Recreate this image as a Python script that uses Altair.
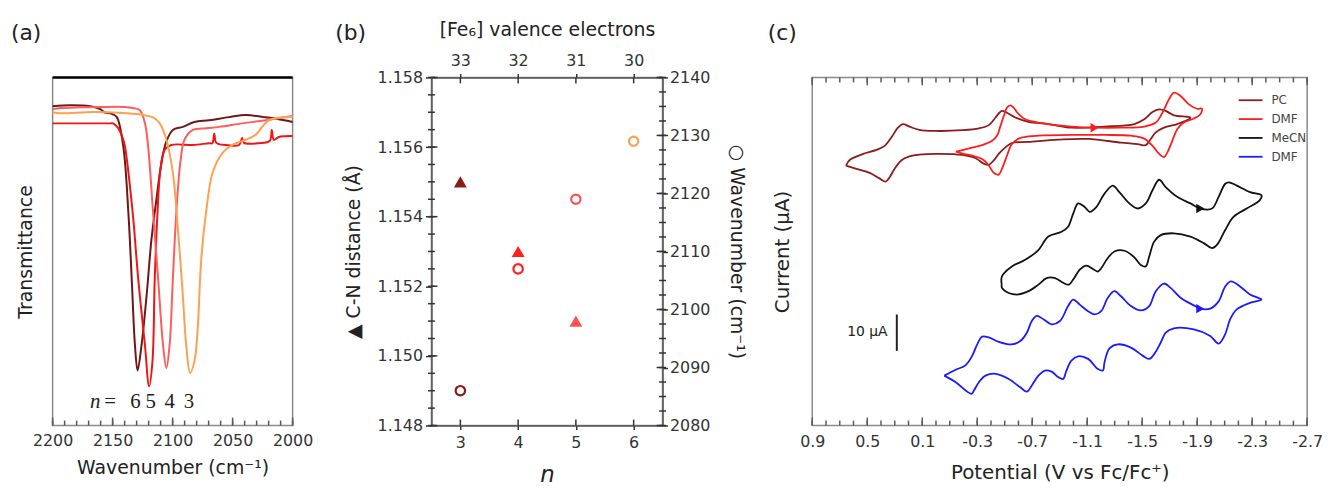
import altair as alt
import pandas as pd

FONT = "DejaVu Sans"
SERIF = "Liberation Serif"
TXT = "#333333"
TTL = "#222222"
FRAME = "#8a8a8a"
TICK = "#5a5a5a"
H = 351

# ---------------- (a) IR spectra ----------------
A_ORDER = ["6", "5", "4", "3"]
A_COLORS = ["#6f1616", "#ee1515", "#ff5c5c", "#ffa050"]

A6_WN = [2200.0, 2185.1, 2168.6, 2160.3, 2157.0, 2150.4, 2146.5, 2141.1, 2136.9, 2134.1, 2131.4, 2129.2, 2125.9,
         2121.7, 2117.6, 2113.5, 2109.3, 2105.2, 2099.8, 2091.5, 2081.8, 2069.4, 2052.9, 2038.8, 2024.0, 2011.6, 2000.0]
A6_T = [91.7, 92.0, 91.7, 90.9, 90.0, 89.5, 88.6, 80.1, 61.3, 42.2, 23.1, 15.8, 23.1,
        37.3, 53.6, 65.0, 75.5, 81.6, 84.9, 85.8, 87.2, 87.7, 88.6, 89.2, 88.6, 88.0, 87.2]

A5_WN = [2200.0, 2176.9, 2152.1, 2149.6, 2145.5, 2141.5, 2139.7, 2133.3, 2128.7, 2123.1, 2119.6, 2116.8, 2114.9,
         2112.6, 2110.2, 2106.6, 2101.1, 2083.2, 2069.4, 2066.9, 2065.3, 2063.6, 2055.6, 2044.6, 2042.1, 2040.5,
         2028.1, 2019.0, 2017.4, 2015.7, 2011.6, 2000.0]
A5_T = [86.8, 86.8, 86.8, 86.8, 85.5, 82.5, 80.1, 61.2, 42.2, 23.2, 11.3, 18.4, 42.2,
        61.2, 73.5, 79.2, 80.6, 80.6, 81.1, 81.1, 83.8, 81.2, 80.6, 80.6, 82.6, 81.2,
        81.1, 81.8, 84.9, 82.1, 82.9, 83.2]

A4_WN = [2200.0, 2193.4, 2176.9, 2160.3, 2139.7, 2133.1, 2127.3, 2123.1, 2120.4, 2116.3, 2112.1, 2108.0, 2105.2,
         2102.5, 2099.8, 2096.9, 2093.6, 2090.1, 2083.2, 2072.1, 2061.2, 2042.1, 2022.6, 2000.0]
A4_T = [90.9, 91.2, 91.4, 91.5, 91.5, 91.2, 90.6, 86.9, 80.1, 61.3, 42.2, 23.2, 16.5,
        23.2, 42.2, 61.3, 75.5, 82.1, 84.9, 85.4, 85.8, 86.8, 87.7, 88.9]

A3_WN = [2200.0, 2193.4, 2165.9, 2138.3, 2124.5, 2116.3, 2110.7, 2105.2, 2099.8, 2095.6, 2091.5, 2088.7, 2085.4,
         2081.8, 2079.1, 2076.3, 2072.1, 2066.7, 2058.4, 2050.2, 2039.1, 2030.8, 2025.4, 2019.8, 2000.0]
A3_T = [90.0, 89.7, 90.1, 89.7, 89.2, 88.5, 86.8, 82.1, 72.6, 56.4, 37.4, 23.2, 15.1,
        18.5, 27.9, 47.0, 61.3, 72.6, 78.3, 80.6, 82.1, 83.5, 85.8, 87.7, 88.7]

A_PEAK_LABELS = ["6", "5", "4", "3"]
A_PEAK_WN = [2131.0, 2118.3, 2102.5, 2086.4]
A_LABEL_T = 6.6
A_N_WN = 2164.5
A_EQ_WN = 2152.0
A_MAJOR = [2200, 2150, 2100, 2050, 2000]
A_MINOR = list(range(2000, 2201, 10))

# ---------------- (b) C-N distance / wavenumber ----------------
B_TRI_N = [3, 4, 5]
B_TRI_CN = [1.1550, 1.1530, 1.1510]
B_CIR_N = [3, 4, 5, 6]
B_CIR_WN = [2086, 2107, 2119, 2129]
B_ORDER = [3, 4, 5, 6]
B_COLORS = ["#8b1a1a", "#ff1f1f", "#ff5252", "#f7a05a"]
B_X_TICKS = [3, 4, 5, 6]
B_LEFT_MAJOR = [1.148, 1.150, 1.152, 1.154, 1.156, 1.158]
B_LEFT_MINOR = [round(1.148 + 0.0005 * k, 4) for k in range(21)]
B_RIGHT_MAJOR = [2080, 2090, 2100, 2110, 2120, 2130, 2140]
B_RIGHT_MINOR = [2080 + 2.5 * k for k in range(25)]

# ---------------- (c) cyclic voltammograms ----------------
C_SERIES = ["PC", "DMF", "MeCN", "DMF "]
C_COLORS = ["#8a1c1c", "#ff1c1c", "#111111", "#1a1aff"]
C_WIDTHS = [1.8, 1.8, 2.8, 1.8]

PC_V = [0.655, 0.626, 0.530, 0.433, 0.373, 0.325, 0.277, 0.241, 0.193, 0.121, 0.000, -0.192, -0.312, -0.384,
        -0.433, -0.461, -0.480, -0.516, -0.577, -0.673, -0.817, -0.985, -1.226, -1.443, -1.515, -1.575, -1.623,
        -1.671, -1.731, -1.827, -1.851, -1.840, -1.755, -1.659, -1.599, -1.562, -1.526, -1.467, -1.346, -1.106,
        -0.889, -0.673, -0.552, -0.505, -0.456, -0.420, -0.384, -0.348, -0.288, -0.192, -0.024, 0.121, 0.193,
        0.253, 0.301, 0.337, 0.366, 0.409, 0.482, 0.578, 0.655]
PC_I = [71.4, 73.0, 74.6, 75.7, 76.8, 79.1, 81.8, 82.8, 82.1, 81.2, 80.9, 81.1, 81.6, 82.5,
        84.6, 85.9, 86.4, 85.9, 84.6, 83.4, 82.8, 81.8, 82.1, 82.8, 84.1, 86.1, 86.8,
        86.4, 85.2, 84.8, 84.6, 84.1, 82.8, 81.8, 80.5, 78.7, 77.0, 77.3, 77.7, 78.7,
        78.5, 77.9, 77.6, 76.4, 74.6, 72.8, 71.6, 71.9, 73.4, 74.3, 74.6, 74.4, 73.9,
        72.8, 70.5, 68.2, 67.0, 67.8, 69.4, 70.5, 71.4]

DMF1_V = [-0.144, -0.240, -0.336, -0.408, -0.444, -0.469, -0.493, -0.516, -0.541, -0.565, -0.601, -0.649, -0.745,
          -0.985, -1.154, -1.346, -1.515, -1.599, -1.647, -1.695, -1.731, -1.779, -1.840, -1.899, -1.935, -1.923,
          -1.876, -1.803, -1.755, -1.719, -1.683, -1.659, -1.623, -1.575, -1.515, -1.418, -1.226, -0.985, -0.745,
          -0.673, -0.601, -0.552, -0.516, -0.480, -0.456, -0.420, -0.384, -0.336, -0.264, -0.192, -0.144]
DMF1_I = [75.2, 76.1, 77.0, 78.2, 79.6, 82.3, 85.0, 87.3, 87.9, 87.3, 85.5, 84.1, 83.2,
          82.1, 81.8, 81.8, 82.1, 83.2, 85.9, 89.6, 91.4, 90.5, 88.2, 87.0, 87.0, 85.5,
          84.3, 83.2, 81.4, 78.2, 75.0, 73.7, 74.6, 76.8, 78.8, 79.6, 79.8, 79.8, 79.6,
          79.4, 78.8, 77.3, 74.1, 70.5, 68.9, 69.4, 71.4, 73.2, 74.1, 74.7, 75.2]

MECN_V = [-0.478, -0.480, -0.552, -0.649, -0.745, -0.817, -0.913, -0.961, -0.998, -1.034, -1.082, -1.118, -1.166,
          -1.226, -1.286, -1.334, -1.407, -1.467, -1.526, -1.575, -1.623, -1.671, -1.755, -1.851, -1.923, -2.008,
          -2.056, -2.104, -2.130, -2.188, -2.284, -2.368,
          -2.356, -2.260, -2.164, -2.104, -2.044, -2.008, -1.948, -1.851, -1.731, -1.635, -1.587, -1.551, -1.526,
          -1.490, -1.443, -1.371, -1.298, -1.250, -1.202, -1.178, -1.142, -1.094, -1.046, -0.998, -0.967, -0.925,
          -0.866, -0.805, -0.745, -0.673, -0.601, -0.529, -0.480, -0.478]
MECN_I = [38.7, 41.0, 43.7, 45.5, 48.2, 51.9, 53.2, 54.6, 58.2, 61.0, 60.0, 58.7, 60.0,
          63.7, 65.9, 64.1, 61.0, 59.6, 61.0, 64.6, 67.5, 65.5, 62.8, 61.0, 59.6, 59.6,
          62.8, 66.4, 66.8, 65.9, 64.1, 63.2,
          61.9, 59.6, 57.3, 53.7, 49.6, 48.7, 50.1, 51.9, 52.8, 52.3, 50.5, 46.4, 43.7,
          44.1, 46.2, 48.0, 47.8, 46.0, 43.2, 42.3, 43.0, 43.9, 42.8, 40.1, 38.7, 39.2,
          40.5, 40.5, 38.7, 36.9, 36.0, 36.4, 37.8, 38.7]

DMF2_V = [-0.060, -0.144, -0.216, -0.264, -0.300, -0.336, -0.384, -0.456, -0.552, -0.613, -0.661, -0.697, -0.733,
          -0.781, -0.841, -0.902, -0.961, -0.998, -1.046, -1.106, -1.154, -1.202, -1.250, -1.298, -1.346, -1.418,
          -1.490, -1.551, -1.599, -1.659, -1.707, -1.779, -1.876, -1.923, -1.995, -2.056, -2.104, -2.145, -2.212,
          -2.284, -2.368,
          -2.284, -2.188, -2.140, -2.104, -2.056, -1.995, -1.876, -1.731, -1.671, -1.635, -1.587, -1.551, -1.503,
          -1.418, -1.322, -1.262, -1.226, -1.214, -1.178, -1.106, -1.034, -0.985, -0.949, -0.925, -0.889, -0.841,
          -0.793, -0.745, -0.697, -0.661, -0.613, -0.529, -0.433, -0.360, -0.312, -0.276, -0.259, -0.216, -0.144,
          -0.060]
DMF2_I = [13.7, 15.3, 16.6, 19.2, 22.3, 24.4, 24.2, 23.0, 22.3, 23.2, 25.5, 28.7, 30.1,
          29.2, 27.8, 28.7, 32.8, 34.6, 33.2, 31.4, 30.5, 31.4, 35.1, 36.9, 35.5, 32.8,
          31.6, 32.8, 36.9, 39.0, 37.8, 35.1, 33.0, 32.1, 32.1, 34.1, 38.2, 39.6, 38.2,
          36.0, 34.6,
          33.7, 31.9, 29.2, 25.1, 22.5, 24.6, 26.4, 26.7, 25.5, 22.8, 19.6, 18.3, 19.2,
          21.4, 22.3, 21.2, 17.4, 15.1, 15.5, 18.3, 19.0, 17.8, 15.1, 12.8, 13.3, 14.8,
          15.1, 13.7, 11.0, 9.3, 10.5, 12.8, 14.2, 13.7, 11.9, 9.6, 8.7, 9.6, 11.9,
          13.7]

ARROW_SERIES = ["DMF", "MeCN", "DMF "]
ARROW_V = [-1.154, -1.923, -1.923]
ARROW_I = [81.8, 59.6, 32.1]

BAR_V = 0.285
BAR_I = [20.5, 30.5]
BAR_TEXT_V = 0.352
BAR_TEXT_I = 25.6

C_MAJOR = [round(0.9 - 0.4 * k, 1) for k in range(10)]
C_MINOR = [round(0.9 - 0.1 * k, 1) for k in range(37)]


def ttl(**kw):
    base = dict(titleFontWeight="normal", titleColor=TTL, titleFont=FONT)
    base.update(kw)
    return base


one = pd.DataFrame({"k": [0]})


def panel_label(txt, dx):
    return alt.Chart(one).mark_text(text=txt, font=FONT, fontSize=22, align="left",
                                    baseline="middle", color="#222").encode(
        x=alt.value(dx), y=alt.value(-45))


def xticks(values, scale, ycenter, length, color=TICK):
    """Short vertical tick marks along a horizontal edge, positioned by the x scale."""
    return alt.Chart(pd.DataFrame({"tv": values})).mark_tick(
        color=color, thickness=1.5, size=length, opacity=1, orient="vertical").encode(
        x=alt.X("tv:Q", scale=scale, axis=None), y=alt.value(ycenter))


def yticks(values, scale, xcenter, length, color="#333333"):
    """Short horizontal tick marks along a vertical edge, positioned by the y scale."""
    return alt.Chart(pd.DataFrame({"tv": values})).mark_tick(
        color=color, thickness=1.5, size=length, opacity=1, orient="horizontal").encode(
        y=alt.Y("tv:Q", scale=scale, axis=None), x=alt.value(xcenter))


# ======================= panel (a) =======================
rows = []
for n, wn, t in [("6", A6_WN, A6_T), ("5", A5_WN, A5_T), ("4", A4_WN, A4_T), ("3", A3_WN, A3_T)]:
    assert len(wn) == len(t)
    for i, (w, v) in enumerate(zip(wn, t)):
        rows.append({"n": n, "wn": w, "T": v, "i": i})
dfa = pd.DataFrame(rows)

W_A = 242
xa = alt.Scale(domain=[2200, 2000], nice=False)
ya = alt.Scale(domain=[0, 100], nice=False)

a_lines = alt.Chart(dfa).mark_line(strokeWidth=2, interpolate="catmull-rom").encode(
    x=alt.X("wn:Q", scale=xa, axis=alt.Axis(
        orient="bottom", values=A_MAJOR, format="d", labelFlush=False, ticks=False, domain=False,
        grid=False, labelFontSize=16, labelPadding=7, labelColor=TXT, labelFont=FONT,
        **ttl(title="Wavenumber (cm⁻¹)", titleFontSize=19, titlePadding=10))),
    y=alt.Y("T:Q", scale=ya, axis=alt.Axis(
        orient="left", ticks=False, labels=False, domain=False, grid=False,
        **ttl(title="Transmittance", titleFontSize=19, titlePadding=17))),
    color=alt.Color("n:N", scale=alt.Scale(domain=A_ORDER, range=A_COLORS), legend=None),
    detail="n:N",
    order="i:Q",
)

a_top = alt.Chart(one).mark_rule(color="black", strokeWidth=2.5).encode(
    x=alt.value(0), x2=alt.value(W_A), y=alt.value(0))

dfa_lab = pd.DataFrame({"txt": A_PEAK_LABELS, "wn": A_PEAK_WN, "T": [A_LABEL_T] * len(A_PEAK_LABELS)})
a_lab = alt.Chart(dfa_lab).mark_text(font=SERIF, fontSize=21, color="#222", baseline="middle").encode(
    x=alt.X("wn:Q", scale=xa, axis=None), y=alt.Y("T:Q", scale=ya, axis=None), text="txt:N")
a_n = alt.Chart(pd.DataFrame({"txt": ["n"], "wn": [A_N_WN], "T": [A_LABEL_T]})).mark_text(
    font=SERIF, fontSize=21, fontStyle="italic", color="#222", baseline="middle").encode(
    x=alt.X("wn:Q", scale=xa, axis=None), y=alt.Y("T:Q", scale=ya, axis=None), text="txt:N")
a_eq = alt.Chart(pd.DataFrame({"txt": ["="], "wn": [A_EQ_WN], "T": [A_LABEL_T]})).mark_text(
    font=SERIF, fontSize=21, color="#222", baseline="middle").encode(
    x=alt.X("wn:Q", scale=xa, axis=None), y=alt.Y("T:Q", scale=ya, axis=None), text="txt:N")

a_tmaj = xticks(A_MAJOR, xa, H - 4, 8)
a_tmin = xticks(A_MINOR, xa, H - 2.5, 5)

panel_a = alt.layer(a_lines, a_top, a_lab, a_n, a_eq, a_tmaj, a_tmin, panel_label("(a)", -42)).resolve_axis(
    x="independent", y="independent").properties(width=W_A, height=H)

# ======================= panel (b) =======================
W_B = 233
xb = alt.Scale(domain=[2.5, 6.5], nice=False)
ybl = alt.Scale(domain=[1.148, 1.158], nice=False, zero=False)
ybr = alt.Scale(domain=[2080, 2140], nice=False, zero=False)
dfb_t = pd.DataFrame({"n": B_TRI_N, "cn": B_TRI_CN})
dfb_c = pd.DataFrame({"n": B_CIR_N, "wn": B_CIR_WN})
bcol = alt.Scale(domain=B_ORDER, range=B_COLORS)
AXB = dict(tickColor="#333", tickWidth=1.5, domainColor="#555", domainWidth=1.5, grid=False,
           labelFontSize=16, labelColor=TXT, labelFont=FONT)

tri = alt.Chart(dfb_t).mark_point(shape="triangle-up", filled=True, size=170, opacity=1).encode(
    x=alt.X("n:Q", scale=xb, axis=alt.Axis(
        orient="bottom", values=B_X_TICKS, tickSize=4, labelPadding=5, **AXB,
        **ttl(title="n", titleFontStyle="italic", titleFontSize=23, titlePadding=13))),
    y=alt.Y("cn:Q", scale=ybl, axis=alt.Axis(
        orient="left", values=B_LEFT_MAJOR, format=".3f", tickSize=6, labelPadding=3, **AXB,
        **ttl(title="▲ C-N distance (Å)", titleFontSize=19, titlePadding=14))),
    color=alt.Color("n:N", scale=bcol, legend=None),
)

cir = alt.Chart(dfb_c).mark_point(shape="circle", filled=False, size=90, strokeWidth=2.2, opacity=1).encode(
    x=alt.X("n:Q", scale=xb, axis=alt.Axis(
        orient="top", values=B_X_TICKS, labelExpr="'' + (36 - datum.value)", tickSize=4,
        labelPadding=5, **AXB,
        **ttl(title="[Fe₆] valence electrons", titleFontSize=19, titlePadding=13))),
    y=alt.Y("wn:Q", scale=ybr, axis=alt.Axis(
        orient="right", values=B_RIGHT_MAJOR, format="d", tickSize=5, labelPadding=2, **AXB,
        **ttl(title="○ Wavenumber (cm⁻¹)", titleFontSize=19, titlePadding=17))),
    color=alt.Color("n:N", scale=bcol, legend=None),
)

b_ticks = [
    yticks(B_LEFT_MINOR, ybl, 0, 7),
    yticks(B_LEFT_MAJOR, ybl, 3, 6),
    yticks(B_RIGHT_MINOR, ybr, W_B, 7),
    yticks(B_RIGHT_MAJOR, ybr, W_B - 3, 6),
    xticks(B_X_TICKS, xb, H - 3, 6, color="#333333"),
    xticks(B_X_TICKS, xb, 3, 6, color="#333333"),
]

panel_b = alt.layer(tri, cir, *b_ticks, panel_label("(b)", -97)).resolve_scale(
    y="independent").resolve_axis(x="independent", y="independent").properties(width=W_B, height=H)

# ======================= panel (c) =======================
W_C = 499
rows = []
for s, vv, ii in [("PC", PC_V, PC_I), ("DMF", DMF1_V, DMF1_I), ("MeCN", MECN_V, MECN_I), ("DMF ", DMF2_V, DMF2_I)]:
    assert len(vv) == len(ii), s
    for i, (v, c) in enumerate(zip(vv, ii)):
        rows.append({"s": s, "V": v, "I": c, "i": i})
dfc = pd.DataFrame(rows)

xc = alt.Scale(domain=[0.9, -2.7], nice=False)
yc = alt.Scale(domain=[0, 95.6], nice=False)
ccol = alt.Scale(domain=C_SERIES, range=C_COLORS)

c_lines = alt.Chart(dfc).mark_line(interpolate="catmull-rom").encode(
    x=alt.X("V:Q", scale=xc, axis=alt.Axis(
        orient="bottom", values=C_MAJOR, labelExpr="replace(format(datum.value, '.1f'), '−', '-')",
        labelFlush=False, ticks=False, domain=False, grid=False, labelFontSize=16, labelPadding=8,
        labelColor=TXT, labelFont=FONT,
        **ttl(title="Potential (V vs Fc/Fc⁺)", titleFontSize=20, titlePadding=13))),
    y=alt.Y("I:Q", scale=yc, axis=alt.Axis(
        orient="left", labels=False, ticks=False, domain=False, grid=False,
        **ttl(title="Current (μA)", titleFontSize=20, titlePadding=20))),
    color=alt.Color("s:N", scale=ccol, legend=alt.Legend(
        title=None, orient="none", legendX=429, legendY=10, symbolType="stroke", symbolSize=576,
        symbolStrokeWidth=2.5, labelFontSize=12, labelColor="#444", labelFont=FONT, rowPadding=-7,
        labelOffset=8)),
    strokeWidth=alt.StrokeWidth("s:N", scale=alt.Scale(domain=C_SERIES, range=C_WIDTHS), legend=None),
    detail="s:N",
    order="i:Q",
)

c_ticks = [
    xticks(C_MAJOR, xc, H - 4, 8),
    xticks(C_MINOR, xc, H - 2.5, 5),
    xticks(C_MAJOR, xc, 4, 8),
    xticks(C_MINOR, xc, 2.5, 5),
]

dfarrow = pd.DataFrame({"s": ARROW_SERIES, "V": ARROW_V, "I": ARROW_I})
c_arrows = alt.Chart(dfarrow).mark_point(shape="triangle-right", filled=True, size=90, opacity=1,
                                         strokeWidth=0).encode(
    x=alt.X("V:Q", scale=xc, axis=None), y=alt.Y("I:Q", scale=yc, axis=None),
    fill=alt.Fill("s:N", scale=alt.Scale(domain=C_SERIES, range=C_COLORS), legend=None),
)

dfbar = pd.DataFrame({"V": [BAR_V], "I0": [BAR_I[0]], "I1": [BAR_I[1]]})
c_bar = alt.Chart(dfbar).mark_rule(color="#222", strokeWidth=2).encode(
    x=alt.X("V:Q", scale=xc, axis=None), y=alt.Y("I0:Q", scale=yc, axis=None), y2="I1:Q")
c_bartext = alt.Chart(pd.DataFrame({"V": [BAR_TEXT_V], "I": [BAR_TEXT_I], "t": ["10 μA"]})).mark_text(
    align="right", baseline="middle", font=FONT, fontSize=14, color="#222").encode(
    x=alt.X("V:Q", scale=xc, axis=None), y=alt.Y("I:Q", scale=yc, axis=None), text="t:N")

panel_c = alt.layer(c_lines, c_arrows, c_bar, c_bartext, *c_ticks,
                    panel_label("(c)", -45)).resolve_axis(
    x="independent", y="independent").properties(width=W_C, height=H)

chart = alt.hconcat(panel_a, panel_b, panel_c, spacing=20).resolve_scale(
    color="independent", fill="independent", strokeWidth="independent"
).properties(
    padding={"left": 2, "top": 10, "right": 0, "bottom": 0}
).configure(font=FONT).configure_view(stroke=FRAME, strokeWidth=1.5)

chart.save("out.html", embed_options={"renderer": "svg", "actions": False})
